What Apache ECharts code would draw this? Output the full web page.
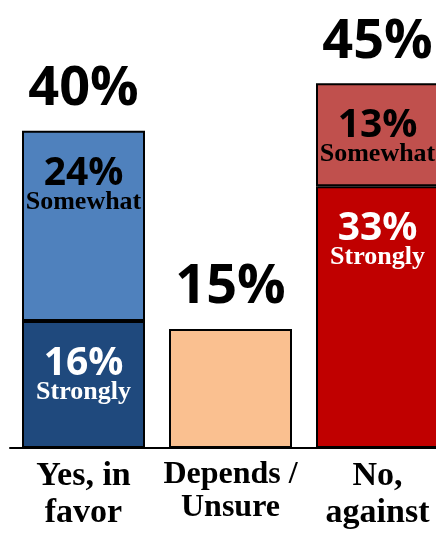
<!DOCTYPE html>
<html>
<head>
<meta charset="utf-8">
<script src="https://cdn.jsdelivr.net/npm/echarts@6/dist/echarts.min.js"></script>
<style>
  html, body { margin: 0; padding: 0; background: #fff; }
  #chart { width: 436px; height: 533px; }
</style>
</head>
<body>
<div id="chart"></div>
<script>
const categories = ["Yes, in\nfavor", "Depends /\nUnsure", "No,\nagainst"];
const strongly = [16, null, 33];
const somewhat = [24, null, 13];
const unsure = [null, 15, null];
const totals = ["40%", "15%", "45%"];
const totalHeights = [40, 15, 46];

const chart = echarts.init(document.getElementById("chart"));

const num = "Open Sans";
const serif = "Liberation Serif";

function segLabel(color) {
  return {
    show: true,
    position: "insideTop",
    distance: 28,
    color: color,
    formatter: (p) => "{p|" + p.value + "%}\n{s|" + p.seriesName + "}",
    rich: {
      p: { fontFamily: num, fontWeight: "bold", fontSize: 39, lineHeight: 30, color: color },
      s: { fontFamily: serif, fontWeight: "bold", fontSize: 26, lineHeight: 26, color: color },
    },
  };
}

chart.setOption({
  animation: false,
  grid: { left: 10, width: 441, top: 51.5, bottom: 85, outerBoundsMode: "none", containLabel: false },
  xAxis: {
    type: "category",
    data: categories,
    axisTick: { show: false },
    axisLine: { lineStyle: { color: "#000", width: 2 } },
    axisLabel: {
      margin: 10,
      interval: 0,
      formatter: (v, i) => (i === 1 ? "{m|" + v.replace("\n", "}\n{m|") + "}" : "{b|" + v.replace("\n", "}\n{b|") + "}"),
      rich: {
        b: { fontFamily: serif, fontWeight: "bold", fontSize: 34, lineHeight: 37, color: "#000" },
        m: { fontFamily: serif, fontWeight: "bold", fontSize: 32, lineHeight: 33, color: "#000" },
      },
    },
  },
  yAxis: { type: "value", min: 0, max: 50, show: false, splitLine: { show: false } },
  series: [
    {
      name: "Strongly",
      type: "bar",
      stack: "a",
      barWidth: 123,
      data: strongly.map((v, i) => ({
        value: v,
        itemStyle: { color: i === 0 ? "#1f497d" : "#c00000" },
      })),
      itemStyle: { borderColor: "#000", borderWidth: 2 },
      label: segLabel("#fff"),
    },
    {
      name: "Somewhat",
      type: "bar",
      stack: "a",
      data: somewhat.map((v, i) => ({
        value: v,
        itemStyle: { color: i === 0 ? "#4f81bd" : "#c0504d" },
      })),
      itemStyle: { borderColor: "#000", borderWidth: 2 },
      label: segLabel("#000"),
    },
    {
      name: "Unsure",
      type: "bar",
      stack: "a",
      data: unsure,
      itemStyle: { color: "#fac090", borderColor: "#000", borderWidth: 2 },
    },
    {
      name: "Total",
      type: "scatter",
      data: totalHeights.map((v, i) => ({ value: v, label: { formatter: totals[i] } })),
      symbolSize: 0,
      silent: true,
      itemStyle: { opacity: 1 },
      label: {
        show: true,
        position: "top",
        distance: 14,
        fontFamily: num,
        fontWeight: "bold",
        fontSize: 54,
        color: "#000",
      },
    },
  ],
});
</script>
</body>
</html>
